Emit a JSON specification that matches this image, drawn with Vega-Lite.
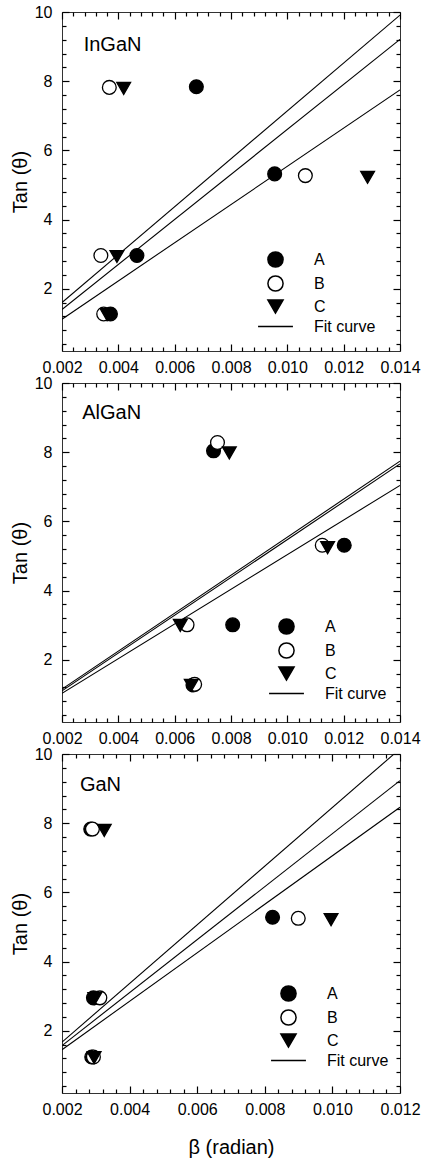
{
  "$schema": "https://vega.github.io/schema/vega-lite/v6.json",
  "background": "white",
  "padding": {"left": 9, "top": 3, "right": 2, "bottom": 4},
  "bounds": "flush",
  "spacing": 32,
  "config": {
    "font": "Liberation Sans",
    "view": {"stroke": "#333", "strokeWidth": 1},
    "axis": {"domain": false, "grid": false, "ticks": true, "tickColor": "black", "tickWidth": 1.2, "labelColor": "black", "titleColor": "black", "labelFont": "Liberation Sans", "titleFont": "Liberation Sans", "labelFontSize": 16, "titleFontSize": 20, "titleFontWeight": "normal", "labelFlush": false, "labelOverlap": false, "labelBound": false},
    "legend": {"labelFont": "Liberation Sans", "labelFontSize": 16, "labelColor": "black"}
  },
  "datasets": {
    "pts": [
      {"panel": "InGaN", "series": "A", "x": 0.00677, "y": 7.84},
      {"panel": "InGaN", "series": "A", "x": 0.00955, "y": 5.32},
      {"panel": "InGaN", "series": "A", "x": 0.00466, "y": 2.96},
      {"panel": "InGaN", "series": "A", "x": 0.00372, "y": 1.27},
      {"panel": "InGaN", "series": "B", "x": 0.00368, "y": 7.82},
      {"panel": "InGaN", "series": "B", "x": 0.01064, "y": 5.27},
      {"panel": "InGaN", "series": "B", "x": 0.00338, "y": 2.96},
      {"panel": "InGaN", "series": "B", "x": 0.00348, "y": 1.27},
      {"panel": "InGaN", "series": "C", "x": 0.00419, "y": 7.79},
      {"panel": "InGaN", "series": "C", "x": 0.01285, "y": 5.22},
      {"panel": "InGaN", "series": "C", "x": 0.00395, "y": 2.93},
      {"panel": "InGaN", "series": "C", "x": 0.0036, "y": 1.25},
      {"panel": "AlGaN", "series": "A", "x": 0.00738, "y": 8.04},
      {"panel": "AlGaN", "series": "A", "x": 0.01202, "y": 5.31},
      {"panel": "AlGaN", "series": "A", "x": 0.00806, "y": 3.01},
      {"panel": "AlGaN", "series": "A", "x": 0.00665, "y": 1.27},
      {"panel": "AlGaN", "series": "B", "x": 0.00752, "y": 8.28},
      {"panel": "AlGaN", "series": "B", "x": 0.01124, "y": 5.31},
      {"panel": "AlGaN", "series": "B", "x": 0.00644, "y": 3.01},
      {"panel": "AlGaN", "series": "B", "x": 0.00671, "y": 1.29},
      {"panel": "AlGaN", "series": "C", "x": 0.00794, "y": 7.98},
      {"panel": "AlGaN", "series": "C", "x": 0.01143, "y": 5.24},
      {"panel": "AlGaN", "series": "C", "x": 0.0062, "y": 2.99},
      {"panel": "AlGaN", "series": "C", "x": 0.00659, "y": 1.26},
      {"panel": "GaN", "series": "A", "x": 0.00285, "y": 7.83},
      {"panel": "GaN", "series": "A", "x": 0.00823, "y": 5.28},
      {"panel": "GaN", "series": "A", "x": 0.00293, "y": 2.95},
      {"panel": "GaN", "series": "A", "x": 0.00288, "y": 1.24},
      {"panel": "GaN", "series": "B", "x": 0.0029, "y": 7.83},
      {"panel": "GaN", "series": "B", "x": 0.00899, "y": 5.25},
      {"panel": "GaN", "series": "B", "x": 0.00312, "y": 2.95},
      {"panel": "GaN", "series": "B", "x": 0.00293, "y": 1.24},
      {"panel": "GaN", "series": "C", "x": 0.00325, "y": 7.79},
      {"panel": "GaN", "series": "C", "x": 0.00996, "y": 5.21},
      {"panel": "GaN", "series": "C", "x": 0.00297, "y": 2.93},
      {"panel": "GaN", "series": "C", "x": 0.00295, "y": 1.22}
    ],
    "fits": [
      {"panel": "InGaN", "fit": "f1", "x": 0.002, "y": 1.6},
      {"panel": "InGaN", "fit": "f1", "x": 0.014, "y": 9.91},
      {"panel": "InGaN", "fit": "f2", "x": 0.002, "y": 1.4},
      {"panel": "InGaN", "fit": "f2", "x": 0.014, "y": 9.21},
      {"panel": "InGaN", "fit": "f3", "x": 0.002, "y": 1.12},
      {"panel": "InGaN", "fit": "f3", "x": 0.014, "y": 7.75},
      {"panel": "AlGaN", "fit": "f1", "x": 0.002, "y": 1.15},
      {"panel": "AlGaN", "fit": "f1", "x": 0.014, "y": 7.74},
      {"panel": "AlGaN", "fit": "f2", "x": 0.002, "y": 1.1},
      {"panel": "AlGaN", "fit": "f2", "x": 0.014, "y": 7.66},
      {"panel": "AlGaN", "fit": "f3", "x": 0.002, "y": 1.03},
      {"panel": "AlGaN", "fit": "f3", "x": 0.014, "y": 7.04},
      {"panel": "GaN", "fit": "f1", "x": 0.002, "y": 1.67},
      {"panel": "GaN", "fit": "f1", "x": 0.012, "y": 10.15},
      {"panel": "GaN", "fit": "f2", "x": 0.002, "y": 1.57},
      {"panel": "GaN", "fit": "f2", "x": 0.012, "y": 9.23},
      {"panel": "GaN", "fit": "f3", "x": 0.002, "y": 1.45},
      {"panel": "GaN", "fit": "f3", "x": 0.012, "y": 8.46}
    ],
    "labels": [
      {"panel": "InGaN", "x": 0.00277, "y": 9.05},
      {"panel": "AlGaN", "x": 0.00272, "y": 9.14},
      {"panel": "GaN", "x": 0.00253, "y": 9.1}
    ]
  },
  "resolve": {
    "scale": {"x": "independent", "y": "independent", "fill": "independent", "shape": "independent"},
    "legend": {"fill": "independent", "shape": "independent"}
  },
  "vconcat": [
    {
      "width": 338, "height": 339,
      "resolve": {"axis": {"x": "independent", "y": "independent"}},
      "layer": [
        {
          "data": {"name": "fits"},
          "transform": [{"filter": "datum.panel === 'InGaN'"}],
          "mark": {"type": "line", "color": "black", "strokeWidth": 1.1, "clip": true},
          "encoding": {
            "x": {"field": "x", "type": "quantitative", "scale": {"domain": [0.002, 0.014], "nice": false, "zero": false},
                  "axis": {"orient": "bottom", "values": [0.002, 0.004, 0.006, 0.008, 0.01, 0.012, 0.014], "format": ".3f", "offset": -7, "tickSize": 7, "labelPadding": 8, "title": null}},
            "y": {"field": "y", "type": "quantitative", "scale": {"domain": [0.2, 10], "nice": false, "zero": false},
                  "axis": {"orient": "left", "values": [2, 4, 6, 8, 10], "format": "d", "offset": -7, "tickSize": 7, "labelPadding": 10, "title": "Tan (θ)", "titlePadding": 4}},
            "detail": {"field": "fit", "type": "nominal"}
          }
        },
        {
          "data": {"name": "pts"},
          "transform": [{"filter": "datum.panel === 'InGaN'"}],
          "mark": {"type": "point", "filled": true, "size": 190, "stroke": "black", "strokeWidth": 1.3, "opacity": 1},
          "encoding": {
            "x": {"field": "x", "type": "quantitative", "scale": {"domain": [0.002, 0.014], "nice": false, "zero": false},
                  "axis": {"orient": "bottom", "values": [0.0024, 0.0028, 0.0032, 0.0036, 0.0044, 0.0048, 0.0052, 0.0056, 0.0064, 0.0068, 0.0072, 0.0076, 0.0084, 0.0088, 0.0092, 0.0096, 0.0104, 0.0108, 0.0112, 0.0116, 0.0124, 0.0128, 0.0132, 0.0136], "offset": -4, "tickSize": 4, "labels": false, "title": null}},
            "y": {"field": "y", "type": "quantitative", "scale": {"domain": [0.2, 10], "nice": false, "zero": false},
                  "axis": {"orient": "left", "values": [0.4, 0.8, 1.2, 1.6, 2.4, 2.8, 3.2, 3.6, 4.4, 4.8, 5.2, 5.6, 6.4, 6.8, 7.2, 7.6, 8.4, 8.8, 9.2, 9.6], "offset": -4, "tickSize": 4, "labels": false, "title": null}},
            "shape": {"field": "series", "type": "nominal", "scale": {"domain": ["A", "B", "C", "Fit curve"], "range": ["circle", "circle", "triangle-down", "M-2.3,0L2.3,0"]},
                      "legend": {"orient": "none", "legendX": 205, "legendY": 239, "title": null, "symbolSize": 230, "labelOffset": 30, "rowPadding": 1, "padding": 0, "encode": {"symbols": {"stroke": {"value": "black"}}}}},
            "fill": {"field": "series", "type": "nominal", "scale": {"domain": ["A", "B", "C", "Fit curve"], "range": ["black", "white", "black", "black"]},
                     "legend": {"orient": "none", "legendX": 205, "legendY": 239, "title": null, "symbolSize": 230, "labelOffset": 30, "rowPadding": 1, "padding": 0, "encode": {"symbols": {"stroke": {"value": "black"}}}}}
          }
        },
        {
          "data": {"name": "labels"},
          "transform": [{"filter": "datum.panel === 'InGaN'"}],
          "mark": {"type": "text", "align": "left", "baseline": "middle", "fontSize": 20, "font": "Liberation Sans", "color": "black"},
          "encoding": {
            "x": {"field": "x", "type": "quantitative", "scale": {"domain": [0.002, 0.014], "nice": false, "zero": false},
                  "axis": {"orient": "top", "values": [0.002, 0.004, 0.006, 0.008, 0.01, 0.012, 0.014], "offset": -7, "tickSize": 7, "labels": false, "title": null}},
            "y": {"field": "y", "type": "quantitative", "scale": {"domain": [0.2, 10], "nice": false, "zero": false},
                  "axis": {"orient": "right", "values": [2, 4, 6, 8, 10], "offset": -7, "tickSize": 7, "labels": false, "title": null}},
            "text": {"field": "panel"}
          }
        },
        {
          "data": {"name": "fits"},
          "transform": [{"filter": "datum.panel === 'InGaN'"}],
          "mark": {"type": "line", "color": "black", "opacity": 0},
          "encoding": {
            "x": {"field": "x", "type": "quantitative", "scale": {"domain": [0.002, 0.014], "nice": false, "zero": false},
                  "axis": {"orient": "top", "values": [0.0024, 0.0028, 0.0032, 0.0036, 0.0044, 0.0048, 0.0052, 0.0056, 0.0064, 0.0068, 0.0072, 0.0076, 0.0084, 0.0088, 0.0092, 0.0096, 0.0104, 0.0108, 0.0112, 0.0116, 0.0124, 0.0128, 0.0132, 0.0136], "offset": -4, "tickSize": 4, "labels": false, "title": null}},
            "y": {"field": "y", "type": "quantitative", "scale": {"domain": [0.2, 10], "nice": false, "zero": false},
                  "axis": {"orient": "right", "values": [0.4, 0.8, 1.2, 1.6, 2.4, 2.8, 3.2, 3.6, 4.4, 4.8, 5.2, 5.6, 6.4, 6.8, 7.2, 7.6, 8.4, 8.8, 9.2, 9.6], "offset": -4, "tickSize": 4, "labels": false, "title": null}},
            "detail": {"field": "fit", "type": "nominal"}
          }
        }
      ]
    },
    {
      "width": 338, "height": 339,
      "resolve": {"axis": {"x": "independent", "y": "independent"}},
      "layer": [
        {
          "data": {"name": "fits"},
          "transform": [{"filter": "datum.panel === 'AlGaN'"}],
          "mark": {"type": "line", "color": "black", "strokeWidth": 1.1, "clip": true},
          "encoding": {
            "x": {"field": "x", "type": "quantitative", "scale": {"domain": [0.002, 0.014], "nice": false, "zero": false},
                  "axis": {"orient": "bottom", "values": [0.002, 0.004, 0.006, 0.008, 0.01, 0.012, 0.014], "format": ".3f", "offset": -7, "tickSize": 7, "labelPadding": 8, "title": null}},
            "y": {"field": "y", "type": "quantitative", "scale": {"domain": [0.2, 10], "nice": false, "zero": false},
                  "axis": {"orient": "left", "values": [2, 4, 6, 8, 10], "format": "d", "offset": -7, "tickSize": 7, "labelPadding": 10, "title": "Tan (θ)", "titlePadding": 4}},
            "detail": {"field": "fit", "type": "nominal"}
          }
        },
        {
          "data": {"name": "pts"},
          "transform": [{"filter": "datum.panel === 'AlGaN'"}],
          "mark": {"type": "point", "filled": true, "size": 190, "stroke": "black", "strokeWidth": 1.3, "opacity": 1},
          "encoding": {
            "x": {"field": "x", "type": "quantitative", "scale": {"domain": [0.002, 0.014], "nice": false, "zero": false},
                  "axis": {"orient": "bottom", "values": [0.0024, 0.0028, 0.0032, 0.0036, 0.0044, 0.0048, 0.0052, 0.0056, 0.0064, 0.0068, 0.0072, 0.0076, 0.0084, 0.0088, 0.0092, 0.0096, 0.0104, 0.0108, 0.0112, 0.0116, 0.0124, 0.0128, 0.0132, 0.0136], "offset": -4, "tickSize": 4, "labels": false, "title": null}},
            "y": {"field": "y", "type": "quantitative", "scale": {"domain": [0.2, 10], "nice": false, "zero": false},
                  "axis": {"orient": "left", "values": [0.4, 0.8, 1.2, 1.6, 2.4, 2.8, 3.2, 3.6, 4.4, 4.8, 5.2, 5.6, 6.4, 6.8, 7.2, 7.6, 8.4, 8.8, 9.2, 9.6], "offset": -4, "tickSize": 4, "labels": false, "title": null}},
            "shape": {"field": "series", "type": "nominal", "scale": {"domain": ["A", "B", "C", "Fit curve"], "range": ["circle", "circle", "triangle-down", "M-2.3,0L2.3,0"]},
                      "legend": {"orient": "none", "legendX": 216, "legendY": 235, "title": null, "symbolSize": 230, "labelOffset": 30, "rowPadding": 1, "padding": 0, "encode": {"symbols": {"stroke": {"value": "black"}}}}},
            "fill": {"field": "series", "type": "nominal", "scale": {"domain": ["A", "B", "C", "Fit curve"], "range": ["black", "white", "black", "black"]},
                     "legend": {"orient": "none", "legendX": 216, "legendY": 235, "title": null, "symbolSize": 230, "labelOffset": 30, "rowPadding": 1, "padding": 0, "encode": {"symbols": {"stroke": {"value": "black"}}}}}
          }
        },
        {
          "data": {"name": "labels"},
          "transform": [{"filter": "datum.panel === 'AlGaN'"}],
          "mark": {"type": "text", "align": "left", "baseline": "middle", "fontSize": 20, "font": "Liberation Sans", "color": "black"},
          "encoding": {
            "x": {"field": "x", "type": "quantitative", "scale": {"domain": [0.002, 0.014], "nice": false, "zero": false},
                  "axis": {"orient": "top", "values": [0.002, 0.004, 0.006, 0.008, 0.01, 0.012, 0.014], "offset": -7, "tickSize": 7, "labels": false, "title": null}},
            "y": {"field": "y", "type": "quantitative", "scale": {"domain": [0.2, 10], "nice": false, "zero": false},
                  "axis": {"orient": "right", "values": [2, 4, 6, 8, 10], "offset": -7, "tickSize": 7, "labels": false, "title": null}},
            "text": {"field": "panel"}
          }
        },
        {
          "data": {"name": "fits"},
          "transform": [{"filter": "datum.panel === 'AlGaN'"}],
          "mark": {"type": "line", "color": "black", "opacity": 0},
          "encoding": {
            "x": {"field": "x", "type": "quantitative", "scale": {"domain": [0.002, 0.014], "nice": false, "zero": false},
                  "axis": {"orient": "top", "values": [0.0024, 0.0028, 0.0032, 0.0036, 0.0044, 0.0048, 0.0052, 0.0056, 0.0064, 0.0068, 0.0072, 0.0076, 0.0084, 0.0088, 0.0092, 0.0096, 0.0104, 0.0108, 0.0112, 0.0116, 0.0124, 0.0128, 0.0132, 0.0136], "offset": -4, "tickSize": 4, "labels": false, "title": null}},
            "y": {"field": "y", "type": "quantitative", "scale": {"domain": [0.2, 10], "nice": false, "zero": false},
                  "axis": {"orient": "right", "values": [0.4, 0.8, 1.2, 1.6, 2.4, 2.8, 3.2, 3.6, 4.4, 4.8, 5.2, 5.6, 6.4, 6.8, 7.2, 7.6, 8.4, 8.8, 9.2, 9.6], "offset": -4, "tickSize": 4, "labels": false, "title": null}},
            "detail": {"field": "fit", "type": "nominal"}
          }
        }
      ]
    },
    {
      "width": 338, "height": 339,
      "resolve": {"axis": {"x": "independent", "y": "independent"}},
      "layer": [
        {
          "data": {"name": "fits"},
          "transform": [{"filter": "datum.panel === 'GaN'"}],
          "mark": {"type": "line", "color": "black", "strokeWidth": 1.1, "clip": true},
          "encoding": {
            "x": {"field": "x", "type": "quantitative", "scale": {"domain": [0.002, 0.012], "nice": false, "zero": false},
                  "axis": {"orient": "bottom", "values": [0.002, 0.004, 0.006, 0.008, 0.01, 0.012], "format": ".3f", "offset": -7, "tickSize": 7, "labelPadding": 8, "title": "β (radian)", "titlePadding": 20}},
            "y": {"field": "y", "type": "quantitative", "scale": {"domain": [0.2, 10], "nice": false, "zero": false},
                  "axis": {"orient": "left", "values": [2, 4, 6, 8, 10], "format": "d", "offset": -7, "tickSize": 7, "labelPadding": 10, "title": "Tan (θ)", "titlePadding": 4}},
            "detail": {"field": "fit", "type": "nominal"}
          }
        },
        {
          "data": {"name": "pts"},
          "transform": [{"filter": "datum.panel === 'GaN'"}],
          "mark": {"type": "point", "filled": true, "size": 190, "stroke": "black", "strokeWidth": 1.3, "opacity": 1},
          "encoding": {
            "x": {"field": "x", "type": "quantitative", "scale": {"domain": [0.002, 0.012], "nice": false, "zero": false},
                  "axis": {"orient": "bottom", "values": [0.0024, 0.0028, 0.0032, 0.0036, 0.0044, 0.0048, 0.0052, 0.0056, 0.0064, 0.0068, 0.0072, 0.0076, 0.0084, 0.0088, 0.0092, 0.0096, 0.0104, 0.0108, 0.0112, 0.0116], "offset": -4, "tickSize": 4, "labels": false, "title": null}},
            "y": {"field": "y", "type": "quantitative", "scale": {"domain": [0.2, 10], "nice": false, "zero": false},
                  "axis": {"orient": "left", "values": [0.4, 0.8, 1.2, 1.6, 2.4, 2.8, 3.2, 3.6, 4.4, 4.8, 5.2, 5.6, 6.4, 6.8, 7.2, 7.6, 8.4, 8.8, 9.2, 9.6], "offset": -4, "tickSize": 4, "labels": false, "title": null}},
            "shape": {"field": "series", "type": "nominal", "scale": {"domain": ["A", "B", "C", "Fit curve"], "range": ["circle", "circle", "triangle-down", "M-2.3,0L2.3,0"]},
                      "legend": {"orient": "none", "legendX": 218, "legendY": 231, "title": null, "symbolSize": 230, "labelOffset": 30, "rowPadding": 1, "padding": 0, "encode": {"symbols": {"stroke": {"value": "black"}}}}},
            "fill": {"field": "series", "type": "nominal", "scale": {"domain": ["A", "B", "C", "Fit curve"], "range": ["black", "white", "black", "black"]},
                     "legend": {"orient": "none", "legendX": 218, "legendY": 231, "title": null, "symbolSize": 230, "labelOffset": 30, "rowPadding": 1, "padding": 0, "encode": {"symbols": {"stroke": {"value": "black"}}}}}
          }
        },
        {
          "data": {"name": "labels"},
          "transform": [{"filter": "datum.panel === 'GaN'"}],
          "mark": {"type": "text", "align": "left", "baseline": "middle", "fontSize": 20, "font": "Liberation Sans", "color": "black"},
          "encoding": {
            "x": {"field": "x", "type": "quantitative", "scale": {"domain": [0.002, 0.012], "nice": false, "zero": false},
                  "axis": {"orient": "top", "values": [0.002, 0.004, 0.006, 0.008, 0.01, 0.012], "offset": -7, "tickSize": 7, "labels": false, "title": null}},
            "y": {"field": "y", "type": "quantitative", "scale": {"domain": [0.2, 10], "nice": false, "zero": false},
                  "axis": {"orient": "right", "values": [2, 4, 6, 8, 10], "offset": -7, "tickSize": 7, "labels": false, "title": null}},
            "text": {"field": "panel"}
          }
        },
        {
          "data": {"name": "fits"},
          "transform": [{"filter": "datum.panel === 'GaN'"}],
          "mark": {"type": "line", "color": "black", "opacity": 0},
          "encoding": {
            "x": {"field": "x", "type": "quantitative", "scale": {"domain": [0.002, 0.012], "nice": false, "zero": false},
                  "axis": {"orient": "top", "values": [0.0024, 0.0028, 0.0032, 0.0036, 0.0044, 0.0048, 0.0052, 0.0056, 0.0064, 0.0068, 0.0072, 0.0076, 0.0084, 0.0088, 0.0092, 0.0096, 0.0104, 0.0108, 0.0112, 0.0116], "offset": -4, "tickSize": 4, "labels": false, "title": null}},
            "y": {"field": "y", "type": "quantitative", "scale": {"domain": [0.2, 10], "nice": false, "zero": false},
                  "axis": {"orient": "right", "values": [0.4, 0.8, 1.2, 1.6, 2.4, 2.8, 3.2, 3.6, 4.4, 4.8, 5.2, 5.6, 6.4, 6.8, 7.2, 7.6, 8.4, 8.8, 9.2, 9.6], "offset": -4, "tickSize": 4, "labels": false, "title": null}},
            "detail": {"field": "fit", "type": "nominal"}
          }
        }
      ]
    }
  ]
}
